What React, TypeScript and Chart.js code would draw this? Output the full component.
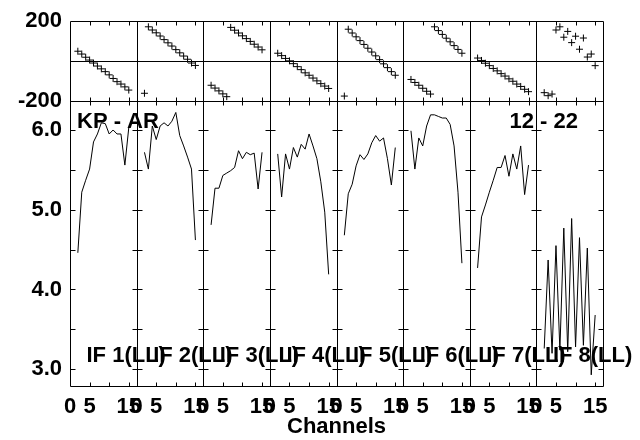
import React, { useEffect, useRef } from 'react';
import { Chart, registerables } from 'chart.js';

Chart.register(...registerables);

const FONT = "'Liberation Sans', Arial, Helvetica, sans-serif";

const panelLabels = ['IF 1(LL)', 'IF 2(LL)', 'IF 3(LL)', 'IF 4(LL)', 'IF 5(LL)', 'IF 6(LL)', 'IF 7(LL)', 'IF 8(LL)'];
const channels = [2, 3, 4, 5, 6, 7, 8, 9, 10, 11, 12, 13, 14, 15];
const channelSpan = 17;
const channelTicks = [0, 5, 10, 15];
const channelTickLabels = ['0', '5', '', '15'];
const phaseTicks = [-200, 200];
const ampTicks = [3.0, 4.0, 5.0, 6.0];
const ampMinorTicks = [3.0, 3.5, 4.0, 4.5, 5.0, 5.5, 6.0];
const baselineLabel = 'KP - AR';
const timeLabel = '12 - 22';
const xTitle = 'Channels';

// Phase (degrees), one array per IF
const phase1 = [50, 36, 20, 6, -9, -24, -38, -52, -68, -86, -102, -114, -128, -144];
const phase2 = [-160, 172, 156, 142, 126, 108, 92, 76, 58, 42, 26, 10, -9, -21];
const phase3 = [-120, -134, -148, -163, -177, 169, 155, 141, 127, 113, 99, 85, 71, 57];
const phase4 = [40, 28, 14, 2, -12, -27, -42, -58, -70, -84, -98, -112, -124, -136];
const phase5 = [-174, 160, 141, 122, 103, 84, 65, 46, 27, 8, -13, -32, -52, -70];
const phase6 = [-91, -106, -120, -135, -150, -164, 172, 153, 134, 115, 97, 78, 59, 40];
const phase7 = [16, 4, -10, -22, -36, -48, -62, -74, -88, -100, -114, -126, -140, -152];
const phase8 = [-157, -172, -164, 156, 172, 120, 149, 93, 125, 60, 116, 21, 36, -22];

// Amplitude, one array per IF
const amp1 = [4.46, 5.22, 5.37, 5.51, 5.85, 5.95, 6.09, 6.08, 5.95, 6.0, 5.95, 5.95, 5.56, 6.03];
const amp2 = [5.72, 5.51, 6.05, 5.88, 6.05, 6.09, 6.05, 6.11, 6.22, 5.93, 5.8, 5.66, 5.51, 4.62];
const amp3 = [4.81, 5.27, 5.27, 5.43, 5.46, 5.49, 5.53, 5.74, 5.64, 5.72, 5.69, 5.71, 5.26, 5.72];
const amp4 = [5.7, 5.16, 5.7, 5.51, 5.78, 5.66, 5.82, 5.76, 5.95, 5.8, 5.64, 5.35, 4.97, 4.19];
const amp5 = [4.68, 5.2, 5.32, 5.55, 5.69, 5.63, 5.7, 5.84, 5.93, 5.86, 5.9, 5.64, 5.31, 5.78];
const amp6 = [5.99, 5.51, 5.9, 5.8, 6.05, 6.19, 6.19, 6.17, 6.15, 6.15, 6.07, 5.8, 5.22, 4.33];
const amp7 = [4.27, 4.91, 5.06, 5.22, 5.37, 5.53, 5.53, 5.68, 5.42, 5.7, 5.51, 5.8, 5.19, 5.56];
const amp8 = [3.26, 4.37, 3.2, 4.55, 3.24, 4.77, 3.22, 4.89, 3.28, 4.65, 3.3, 4.52, 2.93, 3.68];

const phaseSeries = [phase1, phase2, phase3, phase4, phase5, phase6, phase7, phase8];
const ampSeries = [amp1, amp2, amp3, amp4, amp5, amp6, amp7, amp8];
const panelCount = panelLabels.length;

const xTickValues: number[] = [];
const xTickText: Record<number, string> = {};
for (let p = 0; p < panelCount; p++) {
  channelTicks.forEach((c, i) => {
    const v = p * channelSpan + c;
    xTickValues.push(v);
    xTickText[v] = channelTickLabels[i];
  });
}

const framePlugin = {
  id: 'framePanels',
  afterDatasetsDraw(chart: any) {
    const { ctx } = chart;
    const xs = chart.scales.x;
    const ya = chart.scales.ya;
    const yp = chart.scales.yp;
    const L = xs.left, R = xs.right, T = yp.top, M = ya.top, B = ya.bottom;
    const px = (v: number) => Math.round(v) + 0.5;
    ctx.save();
    ctx.strokeStyle = '#000';
    ctx.lineWidth = 1;
    ctx.beginPath();
    ctx.rect(px(L), px(T), Math.round(R) - Math.round(L), Math.round(B) - Math.round(T));
    ctx.moveTo(px(L), px(M));
    ctx.lineTo(px(R), px(M));
    const z = px(yp.getPixelForValue(0));
    ctx.moveTo(px(L), z);
    ctx.lineTo(px(R), z);
    for (let p = 1; p < panelCount; p++) {
      const x = px(xs.getPixelForValue(p * channelSpan));
      ctx.moveTo(x, px(T));
      ctx.lineTo(x, px(B));
    }
    for (let p = 0; p < panelCount; p++) {
      for (const c of channelTicks) {
        if (c === 0) continue;
        const x = px(xs.getPixelForValue(p * channelSpan + c));
        ctx.moveTo(x, px(T));
        ctx.lineTo(x, px(T) + 4);
        ctx.moveTo(x, px(M) - 4);
        ctx.lineTo(x, px(M) + 4);
        ctx.moveTo(x, px(B));
        ctx.lineTo(x, px(B) - 4);
      }
    }
    for (const v of ampMinorTicks) {
      const y = px(ya.getPixelForValue(v));
      for (let p = 1; p < panelCount; p++) {
        const x = px(xs.getPixelForValue(p * channelSpan));
        ctx.moveTo(x - 5, y);
        ctx.lineTo(x + 5, y);
      }
      ctx.moveTo(px(R) - 5, y);
      ctx.lineTo(px(R), y);
      ctx.moveTo(px(L), y);
      ctx.lineTo(px(L) + 5, y);
    }
    ctx.stroke();

    ctx.fillStyle = '#000';
    ctx.font = `bold 22px ${FONT}`;
    ctx.textBaseline = 'middle';
    ctx.textAlign = 'left';
    panelLabels.forEach((t, p) => {
      ctx.fillText(t, xs.getPixelForValue(p * channelSpan) + 16.5, B - 30);
    });
    ctx.fillText(baselineLabel, L + 7, M + 20.5);
    ctx.textAlign = 'right';
    ctx.fillText(timeLabel, R - 25, M + 20.5);
    ctx.restore();
  },
};

export default function App() {
  const ref = useRef<HTMLCanvasElement>(null);

  useEffect(() => {
    const canvas = ref.current;
    if (!canvas) return;
    const font = { family: FONT, size: 22, weight: 'bold' as const };
    const datasets: any[] = [];
    phaseSeries.forEach((vals, p) => {
      datasets.push({
        type: 'line',
        yAxisID: 'yp',
        xAxisID: 'x',
        data: channels.map((c, i) => ({ x: p * channelSpan + c, y: vals[i] })),
        showLine: false,
        pointStyle: 'cross',
        pointRadius: 3.5,
        pointBorderWidth: 1,
        pointBorderColor: '#000',
        borderColor: '#000',
        backgroundColor: '#000',
      });
    });
    ampSeries.forEach((vals, p) => {
      datasets.push({
        type: 'line',
        yAxisID: 'ya',
        xAxisID: 'x',
        data: channels.map((c, i) => ({ x: p * channelSpan + c, y: vals[i] })),
        borderColor: '#000',
        borderWidth: 1,
        pointRadius: 0,
        tension: 0,
        fill: false,
      });
    });

    const chart = new Chart(canvas, {
      type: 'line',
      data: { datasets },
      options: {
        responsive: false,
        animation: false,
        layout: { padding: { top: 17, right: 37, bottom: 0, left: 0 } },
        plugins: { legend: { display: false }, tooltip: { enabled: false } },
        scales: {
          x: {
            type: 'linear',
            position: 'bottom',
            min: 0,
            max: panelCount * channelSpan,
            grid: { display: false, drawTicks: false },
            border: { display: false },
            afterBuildTicks: (s: any) => {
              s.ticks = xTickValues.map((v) => ({ value: v }));
            },
            afterFit: (s: any) => {
              s.height = 54;
            },
            ticks: {
              autoSkip: false,
              maxRotation: 0,
              minRotation: 0,
              padding: 8,
              color: '#000',
              font,
              callback: (v: any) => xTickText[Math.round(Number(v))] ?? '',
            },
            title: { display: true, text: xTitle, color: '#000', font, padding: 0 },
          },
          ya: {
            type: 'linear',
            position: 'left',
            stack: 'panels',
            stackWeight: 288,
            min: 2.79,
            max: 6.36,
            grid: { display: false, drawTicks: false },
            border: { display: false },
            afterBuildTicks: (s: any) => {
              s.ticks = ampTicks.map((v) => ({ value: v }));
            },
            afterFit: (s: any) => {
              s.width = 70;
            },
            ticks: {
              padding: 8,
              color: '#000',
              font,
              callback: (v: any) => Number(v).toFixed(1),
            },
          },
          yp: {
            type: 'linear',
            position: 'left',
            stack: 'panels',
            stackWeight: 81,
            min: -200,
            max: 200,
            grid: { display: false, drawTicks: false },
            border: { display: false },
            afterBuildTicks: (s: any) => {
              s.ticks = phaseTicks.map((v) => ({ value: v }));
            },
            afterFit: (s: any) => {
              s.width = 70;
            },
            ticks: {
              padding: 8,
              color: '#000',
              font,
              callback: (v: any) => String(v),
            },
          },
        },
      } as any,
      plugins: [framePlugin],
    });
    return () => chart.destroy();
  }, []);

  return (
    <div style={{ position: 'absolute', left: 0, top: 0, width: 640, height: 440, background: '#fff' }}>
      <canvas ref={ref} width={640} height={440} style={{ display: 'block' }} />
    </div>
  );
}
